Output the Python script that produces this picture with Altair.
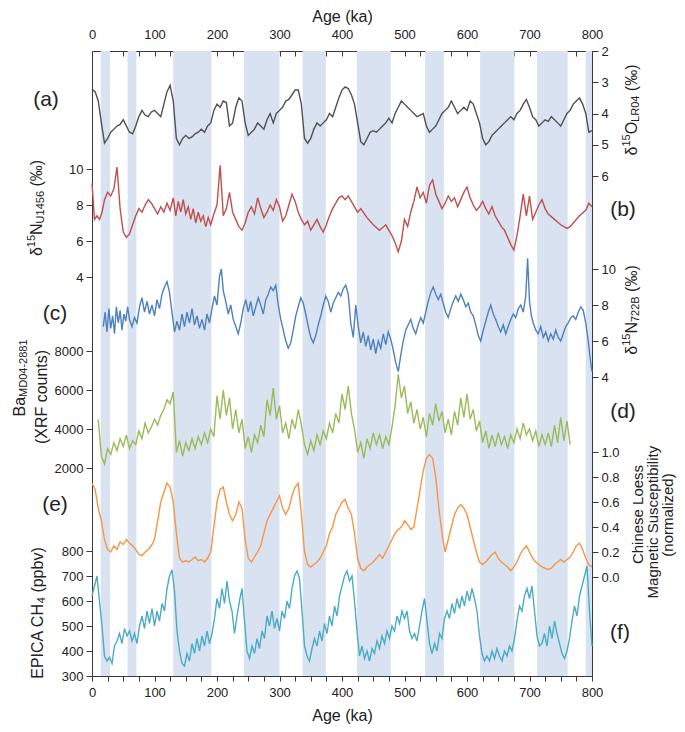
import altair as alt
import pandas as pd

FONT = "Liberation Sans"
TXT = "#222222"
FRAME = "#3a3a3a"
BAND = "#d8e2f0"

# ---------------- data ----------------
band_start = [14, 57, 130, 243, 337, 424, 533, 621, 712, 790]
band_end = [29, 71, 191, 300, 374, 478, 563, 676, 761, 800]

lr04_age = list(range(0, 801, 5))
lr04_val = [
    3.23, 3.30, 3.60, 4.30, 4.95, 4.80, 4.60, 4.50, 4.40, 4.35,
    4.20, 4.40, 4.60, 4.65, 4.40, 4.10, 3.90, 4.05, 4.10, 3.95,
    3.90, 4.00, 4.10, 3.70, 3.30, 3.10, 3.60, 4.80, 5.00, 4.80,
    4.70, 4.80, 4.75, 4.65, 4.60, 4.50, 4.60, 4.40, 4.30, 3.90,
    3.70, 3.80, 3.60, 3.65, 4.40, 4.30, 3.80, 3.50, 3.60, 4.30,
    4.70, 4.60, 4.50, 4.30, 4.40, 4.50, 4.20, 4.00, 4.30, 4.00,
    3.90, 3.80, 3.60, 3.55, 3.40, 3.25, 3.25, 3.70, 4.80, 4.95,
    4.80, 4.50, 4.30, 4.40, 4.30, 4.20, 4.00, 4.10, 3.80, 3.50,
    3.25, 3.15, 3.20, 3.40, 3.70, 4.30, 4.90, 5.00, 4.80, 4.60,
    4.55, 4.60, 4.50, 4.40, 4.30, 4.15, 4.30, 4.00, 3.80, 3.60,
    3.70, 3.80, 3.90, 4.00, 4.10, 4.05, 4.00, 4.40, 4.60, 4.50,
    4.40, 4.20, 4.00, 3.90, 3.80, 3.60, 3.80, 4.00, 3.90, 3.80,
    3.90, 3.60, 3.70, 4.00, 4.30, 4.80, 5.00, 4.90, 4.70, 4.60,
    4.50, 4.40, 4.30, 4.20, 4.10, 4.20, 4.00, 3.90, 3.70, 3.55,
    3.80, 4.10, 4.20, 4.40, 4.30, 4.20, 4.25, 4.10, 4.20, 4.30,
    4.40, 4.20, 4.00, 3.90, 3.70, 3.60, 3.50, 3.70, 4.00, 4.60,
    4.55,
]

u1456_age = [0, 4, 8, 12, 16, 20, 25, 30, 35, 40, 45, 50, 55, 60, 65, 70, 75, 80, 85, 90,
             95, 100, 105, 110, 115, 120, 125, 130, 134, 138, 142, 146, 150, 154, 158, 162,
             166, 170, 174, 178, 182, 186, 190, 195, 200, 205, 210, 215, 220, 225, 230, 235,
             240, 245, 250, 255, 260, 265, 270, 275, 280, 285, 290, 295, 300, 305, 310, 315,
             320, 325, 330, 335, 340, 345, 350, 355, 360, 365, 370, 375, 380, 385, 390, 395,
             400, 405, 410, 415, 420, 425, 430, 440, 450, 460, 470, 480, 485, 490, 495, 500,
             505, 510, 515, 520, 525, 530, 535, 540, 545, 550, 555, 560, 565, 570, 575, 580,
             585, 590, 595, 600, 605, 610, 615, 620, 625, 630, 635, 640, 645, 650, 655, 660,
             665, 670, 675, 680, 685, 690, 695, 700, 705, 710, 715, 720, 725, 730, 740, 750,
             760, 765, 770, 780, 790, 795, 800]
u1456_val = [9.2, 7.2, 7.4, 7.2, 7.6, 8.3, 8.7, 8.5, 8.9, 10.1, 7.8, 6.5, 6.2, 6.4, 6.9, 7.4, 7.8, 7.6, 8.0, 8.3,
             8.1, 7.8, 7.5, 7.9, 7.6, 8.1, 7.7, 8.4, 7.4, 8.2, 7.6, 8.3, 7.5, 7.9, 7.2, 7.8,
             7.0, 7.6, 7.1, 7.4, 6.8, 7.3, 6.9, 7.5, 8.0, 10.2, 7.4, 7.8, 8.7, 7.6, 7.2, 6.8,
             6.6, 7.0, 7.6, 7.9, 7.5, 8.4, 7.8, 7.3, 7.6, 8.0, 7.7, 8.3, 7.9, 7.1, 7.4, 8.0,
             8.6, 8.2, 7.6, 7.2, 6.9, 7.1, 6.6, 6.9, 7.2, 6.8, 6.5, 6.9, 7.4, 7.8, 8.1, 8.4,
             8.5, 8.3, 8.5, 8.2, 7.9, 7.6, 7.8, 7.3, 6.9, 6.6, 6.9, 6.3, 5.9, 5.4, 6.0, 7.2,
             6.8, 7.6, 8.2, 9.0, 8.4, 8.7, 8.1, 9.1, 9.4, 8.6, 8.2, 7.8, 8.1, 8.5, 8.2, 8.4,
             7.9, 8.3, 8.7, 9.0, 8.4, 8.0, 7.7, 7.9, 8.2, 7.8, 7.5, 7.9, 7.4, 7.1, 6.8, 6.6,
             6.2, 5.8, 5.5, 6.3, 7.4, 8.6, 7.4, 8.5, 7.2, 7.6, 8.0, 8.3, 7.8, 7.5, 7.2, 6.9,
             6.7, 6.8, 7.0, 7.4, 7.7, 8.1, 7.9]

n722_age = [18, 21, 24, 27, 30, 33, 36, 39, 42, 45, 48, 51, 54, 57, 60, 64, 68, 72, 76, 80,
            84, 88, 92, 96, 100, 104, 108, 112, 116, 120, 124, 128, 132, 136, 140, 144, 148,
            152, 156, 160, 164, 168, 172, 176, 180, 184, 188, 192, 196, 200, 204, 207, 210,
            214, 218, 222, 226, 230, 234, 238, 242, 246, 250, 254, 258, 262, 266, 270, 274,
            278, 282, 286, 290, 294, 298, 302, 306, 310, 314, 318, 322, 326, 330, 334, 338,
            342, 346, 350, 354, 358, 362, 366, 370, 374, 378, 382, 386, 390, 394, 398, 402,
            406, 410, 414, 418, 422, 426, 430, 434, 438, 442, 446, 450, 454, 458, 462, 466,
            470, 474, 478, 482, 486, 490, 494, 498, 502, 506, 510, 514, 518, 522, 526, 530,
            534, 538, 542, 546, 550, 554, 558, 562, 566, 570, 574, 578, 582, 586, 590, 594,
            598, 602, 606, 610, 614, 618, 622, 626, 630, 634, 638, 642, 646, 650, 654, 658,
            662, 666, 670, 674, 678, 682, 686, 690, 694, 697, 700, 703, 706, 710, 714, 718,
            722, 726, 730, 734, 738, 742, 746, 750, 754, 758, 762, 766, 770, 774, 778, 782,
            786, 790, 794, 798, 800]
n722_val = [6.8, 7.6, 6.5, 7.8, 6.7, 7.4, 6.4, 7.9, 7.0, 7.7, 6.6, 7.5, 7.1, 7.9, 7.2, 6.8, 7.3, 7.0, 7.9, 8.4,
            7.6, 8.2, 7.5, 8.0, 7.4, 8.3, 7.8, 8.6, 9.0, 9.3, 8.7, 7.6, 6.5, 7.1, 6.6, 7.5, 6.8,
            7.6, 7.0, 7.8, 6.9, 7.4, 6.7, 7.2, 6.6, 7.5, 7.0, 7.8, 8.5, 8.0, 9.6, 10.0, 8.8,
            8.2, 7.5, 8.0, 7.2, 6.8, 6.4, 7.0, 7.8, 8.3, 7.6, 8.2, 7.4, 7.9, 8.4, 8.0, 7.5,
            8.3, 8.6, 9.0, 8.8, 9.1, 8.0, 7.2, 6.6, 6.0, 5.6, 5.9, 6.6, 7.4, 7.9, 8.4, 8.1,
            7.5, 6.8, 6.2, 5.9, 6.3, 6.9, 7.4, 8.0, 8.5, 8.2, 7.6, 8.1, 8.4, 8.7, 8.5, 8.9,
            9.1, 8.6, 7.0, 6.2, 8.0, 6.8, 5.9, 6.5, 5.7, 6.3, 5.5, 6.1, 5.3, 6.0, 5.6, 6.4,
            5.8, 6.5, 6.1, 5.5, 4.8, 4.3, 5.2, 6.0, 6.6, 6.9, 7.2, 6.7, 6.4, 6.9, 7.3, 7.0,
            7.6, 8.2, 8.7, 9.0, 8.6, 8.3, 8.6, 8.1, 7.6, 7.3, 7.8, 8.2, 8.5, 8.2, 8.6, 8.3,
            7.9, 8.1, 7.6, 7.4, 6.9, 6.3, 6.0, 6.6, 7.1, 7.6, 8.0, 7.5, 7.2, 6.8, 6.5, 6.9,
            6.4, 6.8, 7.2, 7.5, 7.3, 7.8, 8.0, 7.6, 8.5, 10.6, 8.2, 7.4, 7.0, 6.6, 6.4, 6.8,
            6.2, 6.5, 6.0, 6.4, 6.1, 6.6, 6.2, 6.0, 6.4, 6.8, 7.0, 7.3, 7.4, 7.2, 7.6, 7.9,
            7.7, 7.0, 6.0, 4.8, 4.3]

ba_age = list(range(10, 766, 5))
ba_val = [
    4500, 2600, 2200, 3000, 2700, 3300, 2900, 3500, 3100, 3700,
    3000, 3400, 3200, 3900, 3500, 4300, 3800, 4100, 4500, 4200,
    4700, 5000, 5500, 5300, 5900, 2800, 3400, 2600, 3300, 2900,
    3500, 3000, 3600, 3200, 3800, 3300, 4000, 3600, 5700, 4500,
    6000, 4700, 5600, 4000, 5000, 3800, 4500, 3000, 3600, 2800,
    3700, 3300, 4200, 3600, 5500, 4700, 6100, 4500, 5200, 3800,
    4300, 3500, 4500, 4000, 5000, 4200, 3200, 2700, 3400, 2900,
    3700, 3200, 3900, 3500, 4300, 3800, 4800, 4300, 5800, 5000,
    6200, 4800, 4000, 2800, 3300, 2500, 3500, 3000, 3800, 3200,
    3700, 3000, 3600, 3200, 4100, 5200, 6800, 5600, 6200, 4800,
    5400, 4300, 5000, 4000, 4600, 3600, 4800, 4200, 5300, 4400,
    4900, 3800, 4500, 3700, 4900, 4200, 5600, 4600, 5800, 4500,
    5000, 3900, 4400, 3300, 3900, 3000, 3700, 3100, 3800, 3200,
    3600, 3000, 3700, 3300, 4000, 3500, 4300, 3700, 4000, 3400,
    3900, 3100, 3700, 3200, 3800, 3100, 4200, 3300, 4600, 3400,
    4400, 3200,
]

ms_age = list(range(0, 801, 5))
ms_val = [
    0.75, 0.70, 0.55, 0.45, 0.30, 0.22, 0.20, 0.25, 0.22, 0.28,
    0.26, 0.30, 0.27, 0.25, 0.22, 0.18, 0.17, 0.20, 0.22, 0.25,
    0.30, 0.45, 0.60, 0.68, 0.75, 0.72, 0.60, 0.35, 0.15, 0.12,
    0.13, 0.12, 0.14, 0.16, 0.13, 0.14, 0.12, 0.15, 0.20, 0.40,
    0.60, 0.70, 0.72, 0.60, 0.50, 0.45, 0.50, 0.60, 0.55, 0.30,
    0.15, 0.12, 0.16, 0.20, 0.25, 0.35, 0.45, 0.50, 0.55, 0.60,
    0.65, 0.55, 0.50, 0.55, 0.65, 0.72, 0.75, 0.50, 0.20, 0.10,
    0.08, 0.10, 0.12, 0.15, 0.20, 0.25, 0.35, 0.40, 0.50, 0.55,
    0.60, 0.62, 0.55, 0.50, 0.35, 0.15, 0.07, 0.05, 0.08, 0.10,
    0.12, 0.15, 0.18, 0.15, 0.20, 0.25, 0.30, 0.35, 0.38, 0.40,
    0.45, 0.42, 0.38, 0.40, 0.55, 0.70, 0.85, 0.95, 0.98, 0.95,
    0.80, 0.55, 0.35, 0.20, 0.30, 0.40, 0.50, 0.55, 0.58, 0.55,
    0.50, 0.40, 0.30, 0.20, 0.12, 0.10, 0.12, 0.15, 0.18, 0.20,
    0.15, 0.12, 0.10, 0.08, 0.05, 0.08, 0.12, 0.18, 0.22, 0.25,
    0.20, 0.15, 0.12, 0.10, 0.08, 0.07, 0.06, 0.07, 0.10, 0.12,
    0.14, 0.12, 0.14, 0.16, 0.20, 0.25, 0.27, 0.22, 0.15, 0.10,
    0.08,
]

ch4_age = list(range(0, 801, 4))
ch4_val = [
    620, 660, 700, 600, 500, 380, 360, 375, 350, 420,
    440, 470, 430, 490, 460, 480, 440, 470, 430, 500,
    540, 490, 560, 510, 570, 500, 560, 520, 590, 560,
    650, 700, 725, 640, 480, 400, 350, 340, 390, 360,
    430, 390, 450, 400, 460, 420, 480, 430, 470, 530,
    610, 570, 650, 590, 680, 600, 560, 470, 540, 600,
    650, 520, 400, 370, 420, 390, 450, 410, 480, 450,
    540, 500, 560, 490, 530, 480, 560, 530, 600, 570,
    650, 700, 720, 690, 560, 420, 380, 360, 410, 450,
    420, 480, 440, 510, 470, 540, 500, 580, 540, 620,
    660, 700, 720, 680, 700, 600, 480, 380, 420, 370,
    400, 360, 410, 390, 440, 410, 460, 430, 480, 450,
    500, 480, 540, 510, 560, 530, 560, 480, 450, 470,
    440, 500, 560, 610, 520, 430, 390, 430, 400, 470,
    450, 530, 560, 530, 590, 550, 610, 570, 620, 580,
    640, 600, 650, 610, 560, 460, 390, 360, 380, 360,
    400, 370, 410, 380, 360, 400, 380, 420, 400, 450,
    520, 580, 560, 620, 650, 610, 660, 560, 460, 420,
    430, 470, 420, 500, 450, 520, 470, 430, 390, 370,
    400, 450, 520, 580, 540, 620, 660, 700, 740, 560,
    420,
]

# ---------------- layout helpers ----------------
X0, Y0, PW, PH = 92, 51, 500, 625

GRAY, RED, BLUE, GREEN, ORANGE, CYAN = "#505050", "#c0504d", "#4f81bd", "#9bbb59", "#f79646", "#4bacc6"

XS = alt.Scale(domain=[0, 800], nice=False, zero=False)


def yscale(v1, y1, v2, y2):
    s = (v2 - v1) / (y2 - y1)
    top = v1 + (Y0 - y1) * s
    bot = v1 + (Y0 + PH - y1) * s
    if top < bot:
        return alt.Scale(domain=[top, bot], reverse=True, nice=False, zero=False)
    return alt.Scale(domain=[bot, top], nice=False, zero=False)


def yaxis(orient, values, fmt=None):
    kw = dict(orient=orient, values=values, domain=False, grid=False, title="",
              tickSize=6, tickColor=FRAME, labelPadding=3, labelFontSize=13,
              labelFont=FONT, labelColor=TXT, labelOverlap=False)
    if fmt:
        kw["format"] = fmt
    return alt.Axis(**kw)


def line(age, val, color, scale, axis, xaxis=None):
    df = pd.DataFrame({"age": age, "v": val})
    return alt.Chart(df).mark_line(color=color, strokeWidth=1.4).encode(
        x=alt.X("age:Q", scale=XS, axis=xaxis),
        y=alt.Y("v:Q", scale=scale, axis=axis),
    )


ONE = pd.DataFrame({"k": [0]})

WID = {
    "δ": 0.556, "O": 0.778, "N": 0.722, "L": 0.556, "R": 0.722, "U": 0.722, "B": 0.667,
    "a": 0.556, "M": 0.833, "D": 0.722, "-": 0.333, "(": 0.333, ")": 0.333, "‰": 1.0,
    " ": 0.278, "X": 0.667, "F": 0.611, "c": 0.5, "o": 0.556, "u": 0.556, "n": 0.556,
    "t": 0.278, "s": 0.5, "E": 0.667, "P": 0.667, "I": 0.278, "C": 0.722, "A": 0.667,
    "H": 0.722, "p": 0.556, "b": 0.556, "v": 0.5,
}


def tw(s, size):
    return sum(WID.get(c, 0.556) for c in s) * size


def txt(s, px, py, size, angle=0, align="center", dx=0.0, dy=0.0):
    kw = dict(text=s, font=FONT, fontSize=size, color=TXT, align=align, baseline="middle")
    if angle:
        kw["angle"] = angle
    if dx:
        kw["dx"] = dx
    if dy:
        kw["dy"] = dy
    return alt.Chart(ONE).mark_text(**kw).encode(x=alt.value(px - X0), y=alt.value(py - Y0))


def rich(segs, cx, cy, main=16, small=11):
    total = sum(tw(t, main if k == "n" else small) for t, k in segs)
    pos = -total / 2
    out = []
    for t, k in segs:
        size = main if k == "n" else small
        lead = len(t) - len(t.lstrip(" "))
        pos += tw(" " * lead, size)
        t2 = t.lstrip(" ")
        shift = {"n": 0, "sup": -5, "sub": 4}[k]
        out.append(txt(t2, cx, cy, size, angle=270, align="left", dx=pos, dy=shift))
        pos += tw(t2, size)
    return out


# ---------------- axes for x ----------------
bottom_axis = alt.Axis(
    orient="bottom", values=list(range(0, 801, 25)),
    labelExpr="datum.value % 100 === 0 ? datum.label : ''",
    domain=False, grid=False, tickSize=5, tickColor=FRAME, labelPadding=5,
    labelFontSize=13, labelFont=FONT, labelColor=TXT, labelOverlap=False, labelFlush=False,
    title="Age (ka)", titleFont=FONT, titleFontSize=16, titleFontWeight="normal",
    titleColor=TXT, titlePadding=8,
)
top_axis = alt.Axis(
    orient="top", values=list(range(0, 801, 100)), ticks=False, tickSize=0,
    domain=False, grid=False, labelPadding=10,
    labelFontSize=13, labelFont=FONT, labelColor=TXT, labelOverlap=False, labelFlush=False,
    title="Age (ka)", titleFont=FONT, titleFontSize=16, titleFontWeight="normal",
    titleColor=TXT, titlePadding=4,
)
inner_top_ticks = alt.Axis(
    orient="bottom", offset=-PH, values=list(range(0, 801, 25)), labels=False,
    domain=False, grid=False, tickSize=5, tickColor=FRAME, title="",
)

# ---------------- layers ----------------
bands = alt.Chart(pd.DataFrame({"start": band_start, "end": band_end})).mark_rect(color=BAND).encode(
    x=alt.X("start:Q", scale=XS, axis=bottom_axis), x2="end:Q"
)

la = line(lr04_age, lr04_val, GRAY, yscale(2, 51, 6, 176), yaxis("right", [2, 3, 4, 5, 6]), top_axis)
lb = line(u1456_age, u1456_val, RED, yscale(10, 169, 4, 277), yaxis("left", [4, 6, 8, 10]), inner_top_ticks)
lc = line(n722_age, n722_val, BLUE, yscale(10, 269, 4, 377), yaxis("right", [4, 6, 8, 10]))
ld = line(ba_age, ba_val, GREEN, yscale(2000, 468, 6000, 390), yaxis("left", [2000, 4000, 6000, 8000], "d"))
le = line(ms_age, ms_val, ORANGE, yscale(0, 577, 1, 452),
          yaxis("right", [0, 0.2, 0.4, 0.6, 0.8, 1.0], ".1f"))
lf = line(ch4_age, ch4_val, CYAN, yscale(300, 676, 800, 551),
          yaxis("left", [300, 400, 500, 600, 700, 800], "d"))

texts = []
texts += rich([("δ", "n"), ("15", "sup"), ("O", "n"), ("LR04", "sub"), (" (‰)", "n")], 632, 110)
texts += rich([("δ", "n"), ("15", "sup"), ("N", "n"), ("U1456", "sub"), (" (‰)", "n")], 37, 208)
texts += rich([("δ", "n"), ("15", "sup"), ("N", "n"), ("722B", "sub"), (" (‰)", "n")], 632, 310)
texts += rich([("Ba", "n"), ("MD04-2881", "sub")], 20, 378)
texts += rich([("(XRF counts)", "n")], 42, 397)
texts += rich([("Chinese Loess", "n")], 638, 512, main=15)
texts += rich([("Magnetic Susceptibility", "n")], 653, 510, main=15)
texts += rich([("(normalized)", "n")], 668, 510, main=15)
texts += rich([("EPICA CH", "n"), ("4", "sub"), (" (ppbv)", "n")], 38, 613)

for lab, px, py in [("(a)", 46, 100), ("(b)", 623, 210), ("(c)", 55, 314),
                    ("(d)", 623, 412), ("(e)", 55, 505), ("(f)", 620, 633)]:
    texts.append(txt(lab, px, py, 21))

chart = alt.layer(bands, la, lb, lc, ld, le, lf, *texts).resolve_scale(
    y="independent"
).resolve_axis(
    x="independent", y="independent"
).properties(
    width=PW, height=PH,
    padding={"left": X0 - 8, "top": Y0 - 8, "right": 685 - 8 - X0 - PW, "bottom": 732 - 8 - Y0 - PH},
    autosize=alt.AutoSizeParams(type="none"),
).configure_view(stroke=FRAME, strokeWidth=1)

chart.save("out.html", embed_options={"renderer": "svg", "actions": False})
